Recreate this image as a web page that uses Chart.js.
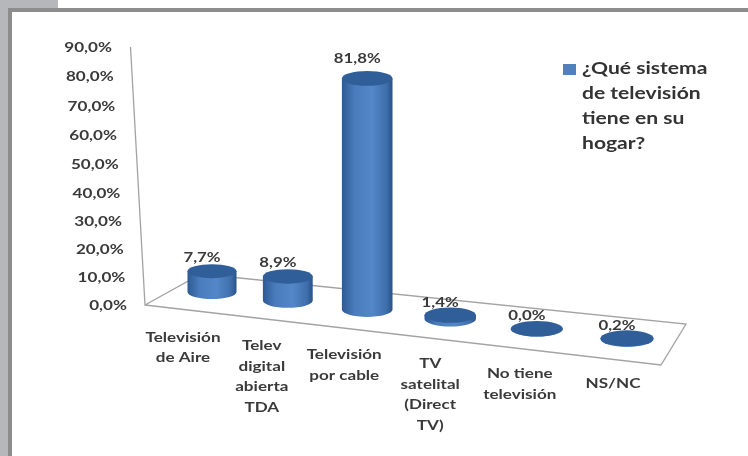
<!DOCTYPE html>
<html>
<head>
<meta charset="utf-8">
<style>
  html, body { margin: 0; padding: 0; background: #fff; overflow: hidden; }
  #page { position: relative; width: 748px; height: 456px; background: #fff; }
  .tab { position: absolute; left: 0; top: 0; width: 58px; height: 9px; background: #b5b7bb; }
  .strip { position: absolute; left: 0; top: 0; width: 8px; height: 456px; background: #b5b7bb; }
  .frameTop { position: absolute; left: 8px; top: 8px; width: 740px; height: 4px; background: #8c8c8c; }
  .frameLeft { position: absolute; left: 8px; top: 8px; width: 4px; height: 448px; background: #8c8c8c; }
  canvas { position: absolute; left: 0; top: 0; filter: blur(0.7px); }
</style>
<script src="https://cdn.jsdelivr.net/npm/chart.js@4/dist/chart.umd.js"></script>
</head>
<body>
<div id="page">
  <div class="tab"></div><div class="strip"></div><div class="frameTop"></div><div class="frameLeft"></div>
  <canvas id="myChart" width="748" height="456"></canvas>
</div>
<script>
const categories = [
  ['Televisión', 'de Aire'],
  ['Telev', 'digital', 'abierta', 'TDA'],
  ['Televisión', 'por cable'],
  ['TV', 'satelital', '(Direct', 'TV)'],
  ['No tiene', 'televisión'],
  ['NS/NC']
];
const values = [7.7, 8.9, 81.8, 1.4, 0.0, 0.2];
const valueLabels = ['7,7%', '8,9%', '81,8%', '1,4%', '0,0%', '0,2%'];
const legendLines = ['¿Qué sistema', 'de televisión', 'tiene en su', 'hogar?'];
const seriesName = legendLines.join(' ');

const textColor = '#3a3a3a';
const font = (size) => `bold ${size}px Lato, "Open Sans", sans-serif`;

// the reference is a stretched video frame, so the text is wider than the font
function wideText(ctx, text, x, y, stretch) {
  ctx.save();
  ctx.translate(x, y);
  ctx.scale(stretch, 1);
  ctx.fillText(text, 0, 0);
  ctx.restore();
}

// the 3D look: chart.js lays out a flat plot, this bends it into the Excel perspective
function unit(chart, x) {
  const a = chart.chartArea;
  const w = (a.right - a.left) / 6;
  return (x - a.left - w / 2) / (w * 5);
}
function warpX(chart, x) {
  const u = unit(chart, x);
  return x - 45 * u * (1 - u);
}
function warpY(chart, y) {
  const a = chart.chartArea;
  const t = (a.bottom - y) / (a.bottom - a.top);
  return y + 13 * t * (1 - t);
}

function drawFloor(ctx, chart) {
  const a = chart.chartArea;
  ctx.strokeStyle = '#a3a3a3';
  ctx.lineWidth = 1.3;
  ctx.beginPath();
  ctx.moveTo(a.left - 40, a.top);
  ctx.lineTo(a.left - 25.5, a.bottom);
  ctx.lineTo(a.left + 30.5, a.bottom - 31);
  ctx.lineTo(a.right + 17.5, a.bottom + 19);
  ctx.lineTo(a.right - 7.5, a.bottom + 60);
  ctx.lineTo(a.left - 25.5, a.bottom);
  ctx.stroke();
}

function drawCylinder(ctx, cx, top, base, rx, ry) {
  const g = ctx.createLinearGradient(cx - rx, 0, cx + rx, 0);
  g.addColorStop(0, '#2c5a94');
  g.addColorStop(0.25, '#4a7cbb');
  g.addColorStop(0.6, '#5387c8');
  g.addColorStop(0.88, '#3f6fab');
  g.addColorStop(1, '#28528a');
  ctx.fillStyle = g;
  ctx.beginPath();
  ctx.moveTo(cx - rx, top);
  ctx.lineTo(cx - rx, base);
  ctx.ellipse(cx, base, rx, ry, 0, Math.PI, 0, true);
  ctx.lineTo(cx + rx, top);
  ctx.closePath();
  ctx.fill();
  ctx.fillStyle = '#2f5e99';
  ctx.beginPath();
  ctx.ellipse(cx, top, rx, ry, 0, 0, Math.PI * 2);
  ctx.fill();
}

const cylinders = {
  id: 'cylinders',
  beforeDatasetsDraw(chart) {
    const ctx = chart.ctx;
    const a = chart.chartArea;
    const yScale = chart.scales.y;
    const bars = chart.getDatasetMeta(0).data;
    ctx.save();

    drawFloor(ctx, chart);

    // value axis labels lean with the axis line
    ctx.font = font(14);
    ctx.fillStyle = textColor;
    ctx.textAlign = 'right';
    ctx.textBaseline = 'middle';
    yScale.ticks.forEach((tick, i) => {
      const y = yScale.getPixelForTick(i);
      const t = (a.bottom - y) / (a.bottom - a.top);
      wideText(ctx, tick.label, 127 - 15 * t, warpY(chart, y), 1.22);
    });

    const tops = [];
    bars.forEach((bar, i) => {
      const u = unit(chart, bar.x);
      const cx = warpX(chart, bar.x);
      const floor = a.bottom - 13 + (cx - 212) * 0.113;
      const h = (a.bottom - warpY(chart, bar.y)) * 0.99;
      const top = floor - h;
      tops.push(top);
      drawCylinder(ctx, cx, top, floor, 24.5 + 2 * u, 7 + u);

      ctx.fillStyle = textColor;
      ctx.font = font(14);
      ctx.textAlign = 'center';
      categories[i].forEach((line, k) => {
        wideText(ctx, line, cx - 29 + 15 * u, floor + 45 + k * 20.5, 1.22);
      });
    });

    // value labels go last, some of them sit over the back edge of the floor
    ctx.font = font(14);
    bars.forEach((bar, i) => {
      const cx = warpX(chart, bar.x);
      wideText(ctx, valueLabels[i], cx - 10, tops[i] - 13 - values[i] * 0.09, 1.2);
    });

    // legend
    ctx.fillStyle = chart.data.datasets[0].backgroundColor;
    ctx.fillRect(563, 64, 13, 11);
    ctx.fillStyle = '#333';
    ctx.font = font(17);
    ctx.textAlign = 'left';
    legendLines.forEach((line, k) => {
      wideText(ctx, line, 582, 69 + k * 24.7, 1.24);
    });

    ctx.restore();
    return false;
  }
};

new Chart(document.getElementById('myChart').getContext('2d'), {
  type: 'bar',
  data: {
    labels: categories,
    datasets: [{
      label: seriesName,
      data: values,
      backgroundColor: '#4f81bd'
    }]
  },
  options: {
    responsive: false,
    animation: false,
    layout: { padding: { left: 170.5, right: 79.5, top: 47, bottom: 151 } },
    plugins: { legend: { display: false }, tooltip: { enabled: false } },
    scales: {
      x: { display: false },
      y: {
        display: false,
        min: 0,
        max: 90,
        ticks: { stepSize: 10, callback: (v) => v.toFixed(1).replace('.', ',') + '%' }
      }
    }
  },
  plugins: [cylinders]
});
</script>
</body>
</html>
